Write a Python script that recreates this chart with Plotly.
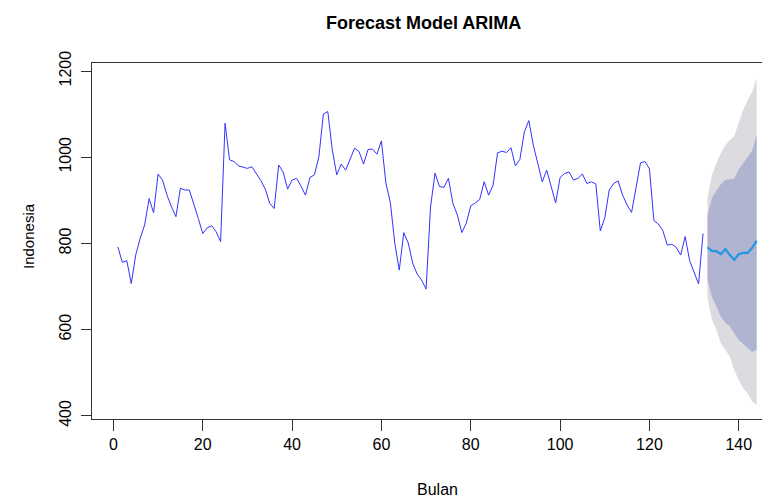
import plotly.graph_objects as go

# ---------------- data ----------------
months = list(range(1, 133))
indonesia = [
    792, 756, 760, 707, 773, 812, 843, 904, 871, 961,
    947, 912, 885, 862, 928, 924, 924, 893, 858, 823,
    836, 841, 827, 804, 1079, 994, 990, 980, 977, 974,
    978, 962, 946, 926, 893, 881, 982, 966, 926, 947,
    951, 933, 912, 953, 959, 1001, 1100, 1106, 1017, 959,
    984, 970, 995, 1021, 1013, 984, 1018, 1019, 1007, 1038,
    940, 895, 800, 738, 825, 801, 754, 729, 715, 694,
    885, 963, 932, 930, 951, 893, 866, 825, 847, 887,
    894, 902, 943, 912, 935, 1010, 1014, 1011, 1022, 980,
    995, 1059, 1085, 1028, 986, 943, 970, 932, 894, 953,
    962, 966, 947, 951, 961, 939, 943, 938, 829, 859,
    924, 939, 945, 912, 889, 872, 928, 987, 990, 973,
    853, 845, 830, 796, 798, 791, 773, 816, 760, 734,
    706, 823,
]
fc_months = list(range(133, 145))
fc_mean = [791, 782, 782, 775, 787, 773, 762, 775, 778, 778, 790, 806]
lo80 = [715, 676, 653, 630, 616, 608, 591, 576, 566, 557, 548, 553]
hi80 = [866, 906, 922, 937, 947, 949, 950, 972, 987, 999, 1015, 1052]
lo95 = [673, 623, 599, 568, 553, 537, 506, 483, 464, 452, 433, 425]
hi95 = [906, 959, 986, 1010, 1028, 1040, 1049, 1082, 1110, 1133, 1152, 1183]

x_ticks = [0, 20, 40, 60, 80, 100, 120, 140]
y_ticks = [400, 600, 800, 1000, 1200]

title_text = "Forecast Model ARIMA"
x_title = "Bulan"
y_title = "Indonesia"

# ---------------- figure ----------------
OFF = 8  # page body margin
W, H = 770 - OFF, 499 - OFF
L, R, T, B = 92 - OFF, 0, 63 - OFF, 80
pw = W - L - R
ph = H - T - B

fig = go.Figure()

fig.add_trace(go.Scatter(
    x=fc_months + fc_months[::-1], y=hi95 + lo95[::-1],
    fill="toself", fillcolor="#DBDBE0", line=dict(width=0),
    mode="lines", hoverinfo="skip", showlegend=False))
fig.add_trace(go.Scatter(
    x=fc_months + fc_months[::-1], y=hi80 + lo80[::-1],
    fill="toself", fillcolor="#B0B4D0", line=dict(width=0),
    mode="lines", hoverinfo="skip", showlegend=False))
fig.add_trace(go.Scatter(
    x=months, y=indonesia, mode="lines",
    line=dict(color="#3333FF", width=1), showlegend=False))
fig.add_trace(go.Scatter(
    x=fc_months, y=fc_mean, mode="lines",
    line=dict(color="#2297E6", width=2.2), showlegend=False))

font_main = "Liberation Sans, Arial, sans-serif"

def px_x(p):
    return (p - OFF - L) / pw

def px_y(p):
    return 1 - (p - OFF - T) / ph

fig.update_layout(
    width=W, height=H,
    margin=dict(l=L, r=R, t=T, b=B, pad=0, autoexpand=False),
    plot_bgcolor="white", paper_bgcolor="white",
    font=dict(family=font_main, size=16, color="black"),
    xaxis=dict(
        range=[-4.79, 146.99], tickvals=x_ticks, automargin=False,
        ticks="outside", ticklen=11, tickcolor="#333",
        showline=True, linecolor="#333", linewidth=1, mirror=True,
        showgrid=False, zeroline=False,
        tickfont=dict(size=16, family=font_main),
    ),
    yaxis=dict(
        range=[392.6, 1218.6], tickvals=y_ticks, automargin=False,
        ticks="outside", ticklen=10, tickcolor="#333",
        showline=True, linecolor="#333", linewidth=1, mirror=False,
        showgrid=False, zeroline=False, tickangle=-90,
        ticklabelstandoff=4,
        tickfont=dict(size=16, family=font_main),
    ),
    annotations=[
        dict(text="<b>" + title_text + "</b>", xref="paper", yref="paper",
             x=px_x(423), y=px_y(23), showarrow=False,
             xanchor="center", yanchor="middle",
             font=dict(size=18, family=font_main)),
        dict(text=x_title, xref="paper", yref="paper",
             x=px_x(437), y=px_y(489), showarrow=False,
             xanchor="center", yanchor="middle",
             font=dict(size=16, family=font_main)),
        dict(text=y_title, xref="paper", yref="paper",
             x=px_x(28), y=px_y(236), showarrow=False, textangle=-90,
             xanchor="center", yanchor="middle",
             font=dict(size=15, family=font_main)),
    ],
)

fig.write_html("out.html")
